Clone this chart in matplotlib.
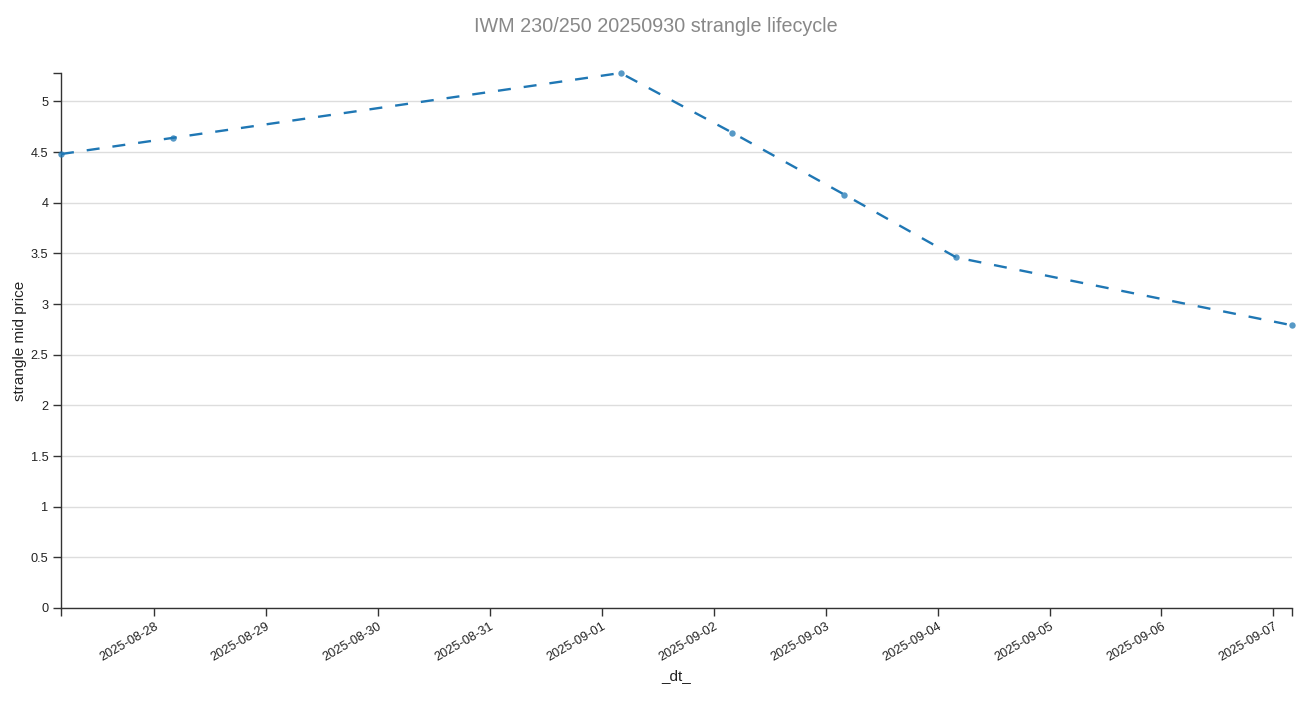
import numpy as np
import pandas as pd
import matplotlib
matplotlib.use("Agg")
import matplotlib.pyplot as plt
import matplotlib.dates as mdates
from matplotlib import rcParams
from matplotlib.ticker import FuncFormatter, FixedLocator

rcParams['font.family'] = ['Liberation Sans', 'DejaVu Sans']

# strangle mid price snapshots (UTC timestamps)
dates = ["2025-08-27 04:00", "2025-08-28 04:00", "2025-09-01 04:00",
         "2025-09-02 04:00", "2025-09-03 04:00", "2025-09-04 04:00",
         "2025-09-07 04:00"]
mid_price = [4.48, 4.64, 5.28, 4.69, 4.08, 3.46, 2.79]

title = "IWM 230/250 20250930 strangle lifecycle"
x_label = "_dt_"
y_label = "strangle mid price"

dt = pd.to_datetime(dates)

fig = plt.figure(figsize=(13.13, 7.01), dpi=100)
ax = fig.add_axes([61 / 1313, 1 - 608 / 701, (1292 - 61) / 1313, (608 - 73) / 701])

ax.plot(dt, mid_price, linestyle=(0, (5.5, 5.5)), color="#1f77b4", linewidth=1.7,
        zorder=3, clip_on=False)
ax.plot(dt, mid_price, linestyle="none", marker="o", markersize=4.6,
        markerfacecolor="#1f77b4", markeredgewidth=0, alpha=0.75,
        zorder=4, clip_on=False)

ax.set_xlim(dt[0], dt[-1])
ax.set_ylim(0, max(mid_price))

# y axis
yticks = np.arange(0, 5.01, 0.5)
ax.yaxis.set_major_locator(FixedLocator(yticks))
ax.yaxis.set_major_formatter(FuncFormatter(lambda v, p: f"{v:g}"))
ax.yaxis.set_minor_locator(FixedLocator([max(mid_price)]))
ax.grid(axis="y", color="#dddddd", linewidth=1, zorder=0)

# x axis
days = pd.date_range("2025-08-28", "2025-09-07", freq="D")
ax.xaxis.set_major_locator(FixedLocator(mdates.date2num(days)))
ax.xaxis.set_major_formatter(mdates.DateFormatter("%Y-%m-%d"))
ax.xaxis.set_minor_locator(FixedLocator(mdates.date2num([dt[0], dt[-1]])))

ax.tick_params(axis="both", which="both", length=6, width=1, color="#333333",
               labelsize=9.2, labelcolor="#222222")
ax.tick_params(axis="both", which="major", pad=3)
plt.setp(ax.get_xticklabels(), rotation=30, ha="right", rotation_mode="anchor")

for s in ["top", "right"]:
    ax.spines[s].set_visible(False)
for s in ["left", "bottom"]:
    ax.spines[s].set_color("#333333")
    ax.spines[s].set_linewidth(1)

ax.set_xlabel(x_label, fontsize=11, color="#222222", labelpad=4)
ax.set_ylabel(y_label, fontsize=11, color="#222222", labelpad=3)

fig.text(656 / 1313, 1 - 26 / 701, title, ha="center", va="center",
         fontsize=14.2, color="#888888")

fig.savefig("out.png", dpi=100)
